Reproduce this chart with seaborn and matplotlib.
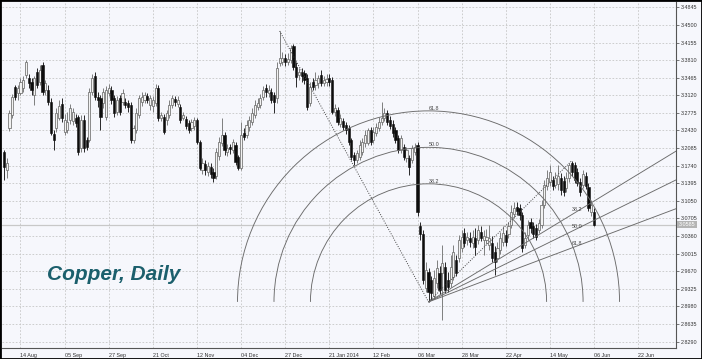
import numpy as np
import pandas as pd
import matplotlib
matplotlib.use("Agg")
import matplotlib.pyplot as plt
import matplotlib.transforms as mtransforms
from matplotlib.patches import Arc, Rectangle
import seaborn as sns

# ---------------- data (daily copper OHLC) ----------------
FIRST_BAR = -6   # bar index of the first candle (0 = 14 Aug)

opens = [
    3.201, 3.166, 3.248, 3.273, 3.328, 3.317, 3.317, 3.326, 3.352, 3.346,
    3.338, 3.313, 3.358, 3.338, 3.371, 3.322, 3.322, 3.299, 3.236, 3.248,
    3.268, 3.295, 3.240, 3.244, 3.264, 3.262, 3.268, 3.270, 3.209, 3.264,
    3.224, 3.224, 3.319, 3.350, 3.309, 3.307, 3.297, 3.270, 3.317, 3.322,
    3.307, 3.279, 3.307, 3.299, 3.299, 3.297, 3.293, 3.224, 3.244, 3.273,
    3.299, 3.303, 3.311, 3.293, 3.291, 3.297, 3.326, 3.268, 3.270, 3.264,
    3.273, 3.293, 3.305, 3.295, 3.289, 3.268, 3.266, 3.258, 3.248, 3.252,
    3.264, 3.221, 3.166, 3.177, 3.162, 3.172, 3.162, 3.154, 3.193, 3.219,
    3.234, 3.201, 3.211, 3.205, 3.215, 3.191, 3.170, 3.238, 3.234, 3.250,
    3.260, 3.273, 3.289, 3.293, 3.309, 3.326, 3.317, 3.319, 3.313, 3.307,
    3.375, 3.377, 3.385, 3.377, 3.381, 3.409, 3.368, 3.352, 3.358, 3.356,
    3.346, 3.297, 3.338, 3.332, 3.336, 3.352, 3.336, 3.338, 3.346, 3.342,
    3.279, 3.283, 3.256, 3.262, 3.254, 3.248, 3.224, 3.195, 3.185, 3.191,
    3.201, 3.219, 3.219, 3.244, 3.224, 3.238, 3.248, 3.260, 3.268, 3.277,
    3.264, 3.256, 3.244, 3.228, 3.205, 3.211, 3.189, 3.189, 3.185, 3.201,
    3.215, 3.056, 3.040, 2.934, 2.966, 2.950, 2.919, 2.944, 2.964, 2.964,
    2.976, 2.950, 2.944, 2.956, 2.989, 2.993, 3.013, 3.042, 3.028, 3.032,
    3.023, 3.032, 3.028, 3.044, 3.028, 3.028, 3.019, 3.023, 3.005, 2.993,
    3.009, 3.025, 3.038, 3.040, 3.058, 3.079, 3.093, 3.091, 3.077, 3.019,
    3.038, 3.064, 3.056, 3.052, 3.048, 3.058, 3.097, 3.134, 3.142, 3.146,
    3.136, 3.138, 3.150, 3.144, 3.130, 3.150, 3.179, 3.175, 3.162, 3.142,
    3.136, 3.154, 3.132, 3.083, 3.083,
]
closes = [
    3.172, 3.179, 3.277, 3.309, 3.309, 3.326, 3.338, 3.342, 3.377, 3.336,
    3.322, 3.346, 3.332, 3.362, 3.319, 3.336, 3.299, 3.238, 3.224, 3.277,
    3.291, 3.268, 3.264, 3.260, 3.287, 3.279, 3.258, 3.201, 3.264, 3.209,
    3.211, 3.319, 3.346, 3.309, 3.303, 3.270, 3.319, 3.322, 3.326, 3.303,
    3.277, 3.303, 3.279, 3.317, 3.293, 3.289, 3.224, 3.248, 3.277, 3.307,
    3.309, 3.313, 3.303, 3.307, 3.303, 3.326, 3.268, 3.273, 3.240, 3.277,
    3.293, 3.307, 3.299, 3.303, 3.264, 3.273, 3.252, 3.244, 3.260, 3.264,
    3.221, 3.170, 3.179, 3.166, 3.173, 3.158, 3.150, 3.201, 3.221, 3.234,
    3.205, 3.209, 3.207, 3.221, 3.181, 3.170, 3.234, 3.230, 3.254, 3.264,
    3.277, 3.293, 3.297, 3.307, 3.322, 3.319, 3.322, 3.303, 3.299, 3.366,
    3.385, 3.385, 3.377, 3.383, 3.405, 3.368, 3.348, 3.358, 3.350, 3.342,
    3.289, 3.328, 3.328, 3.342, 3.346, 3.336, 3.342, 3.344, 3.338, 3.279,
    3.287, 3.260, 3.268, 3.250, 3.244, 3.221, 3.191, 3.185, 3.199, 3.215,
    3.221, 3.234, 3.244, 3.221, 3.240, 3.250, 3.260, 3.268, 3.277, 3.260,
    3.252, 3.238, 3.224, 3.205, 3.228, 3.191, 3.205, 3.172, 3.209, 3.211,
    3.083, 3.040, 2.950, 2.970, 2.927, 2.925, 2.954, 2.974, 2.930, 2.983,
    2.930, 2.936, 2.976, 3.005, 2.964, 3.028, 3.034, 3.023, 3.034, 3.025,
    3.034, 3.015, 3.048, 3.032, 3.036, 3.034, 3.032, 2.993, 2.985, 3.013,
    3.032, 3.042, 3.025, 3.056, 3.083, 3.091, 3.085, 3.077, 3.013, 3.032,
    3.058, 3.052, 3.040, 3.034, 3.062, 3.097, 3.136, 3.150, 3.162, 3.134,
    3.150, 3.154, 3.126, 3.123, 3.150, 3.175, 3.162, 3.146, 3.140, 3.123,
    3.158, 3.134, 3.091, 3.097, 3.0585,
]
highs = [
    3.205, 3.189, 3.283, 3.315, 3.332, 3.332, 3.346, 3.350, 3.381, 3.354,
    3.346, 3.350, 3.366, 3.371, 3.377, 3.342, 3.332, 3.307, 3.244, 3.287,
    3.303, 3.307, 3.275, 3.279, 3.295, 3.287, 3.275, 3.273, 3.273, 3.273,
    3.230, 3.326, 3.354, 3.358, 3.319, 3.313, 3.326, 3.330, 3.334, 3.330,
    3.313, 3.311, 3.313, 3.324, 3.307, 3.303, 3.299, 3.254, 3.287, 3.313,
    3.319, 3.319, 3.317, 3.313, 3.311, 3.334, 3.332, 3.279, 3.275, 3.283,
    3.303, 3.313, 3.311, 3.311, 3.295, 3.279, 3.271, 3.264, 3.266, 3.270,
    3.268, 3.224, 3.189, 3.185, 3.181, 3.179, 3.170, 3.209, 3.230, 3.268,
    3.240, 3.217, 3.217, 3.226, 3.221, 3.195, 3.260, 3.248, 3.264, 3.271,
    3.287, 3.303, 3.307, 3.315, 3.330, 3.334, 3.332, 3.326, 3.319, 3.377,
    3.438, 3.397, 3.393, 3.395, 3.411, 3.413, 3.377, 3.366, 3.366, 3.362,
    3.354, 3.338, 3.346, 3.358, 3.352, 3.362, 3.350, 3.354, 3.354, 3.348,
    3.295, 3.289, 3.275, 3.268, 3.260, 3.254, 3.228, 3.201, 3.205, 3.224,
    3.228, 3.244, 3.248, 3.250, 3.250, 3.258, 3.270, 3.299, 3.287, 3.283,
    3.271, 3.264, 3.250, 3.234, 3.234, 3.217, 3.211, 3.195, 3.215, 3.219,
    3.221, 3.064, 3.048, 2.985, 2.974, 2.958, 2.970, 2.989, 2.977, 3.019,
    2.985, 2.966, 2.999, 3.019, 2.999, 3.038, 3.048, 3.052, 3.044, 3.044,
    3.048, 3.052, 3.058, 3.056, 3.048, 3.050, 3.058, 3.036, 3.017, 3.025,
    3.044, 3.056, 3.048, 3.064, 3.097, 3.103, 3.103, 3.099, 3.083, 3.044,
    3.068, 3.071, 3.064, 3.060, 3.070, 3.107, 3.146, 3.166, 3.175, 3.154,
    3.162, 3.175, 3.160, 3.154, 3.162, 3.180, 3.184, 3.181, 3.170, 3.150,
    3.166, 3.162, 3.140, 3.107, 3.091,
]
lows = [
    3.146, 3.150, 3.242, 3.268, 3.303, 3.303, 3.313, 3.319, 3.346, 3.326,
    3.313, 3.293, 3.326, 3.332, 3.313, 3.313, 3.293, 3.234, 3.205, 3.240,
    3.264, 3.260, 3.234, 3.238, 3.256, 3.254, 3.250, 3.195, 3.201, 3.201,
    3.205, 3.221, 3.313, 3.303, 3.289, 3.244, 3.287, 3.264, 3.311, 3.295,
    3.270, 3.273, 3.273, 3.293, 3.287, 3.279, 3.219, 3.219, 3.238, 3.268,
    3.291, 3.297, 3.297, 3.283, 3.279, 3.291, 3.262, 3.262, 3.236, 3.254,
    3.268, 3.287, 3.291, 3.289, 3.258, 3.264, 3.246, 3.238, 3.242, 3.244,
    3.217, 3.166, 3.158, 3.156, 3.154, 3.150, 3.142, 3.148, 3.185, 3.213,
    3.195, 3.193, 3.197, 3.199, 3.175, 3.166, 3.166, 3.224, 3.228, 3.242,
    3.254, 3.268, 3.283, 3.287, 3.303, 3.309, 3.309, 3.297, 3.277, 3.297,
    3.369, 3.371, 3.369, 3.371, 3.375, 3.362, 3.328, 3.342, 3.338, 3.334,
    3.283, 3.291, 3.322, 3.322, 3.326, 3.330, 3.330, 3.330, 3.330, 3.275,
    3.271, 3.254, 3.250, 3.244, 3.236, 3.215, 3.185, 3.175, 3.179, 3.185,
    3.195, 3.211, 3.215, 3.215, 3.219, 3.232, 3.242, 3.254, 3.262, 3.254,
    3.246, 3.230, 3.219, 3.199, 3.199, 3.185, 3.181, 3.156, 3.179, 3.195,
    3.075, 3.028, 2.942, 2.927, 2.907, 2.911, 2.913, 2.934, 2.923, 2.872,
    2.925, 2.927, 2.936, 2.950, 2.958, 2.985, 3.005, 3.015, 3.019, 3.015,
    3.013, 2.999, 3.021, 3.026, 2.999, 3.021, 3.009, 2.985, 2.960, 2.985,
    3.001, 3.017, 3.017, 3.032, 3.052, 3.071, 3.077, 3.068, 3.005, 3.013,
    3.028, 3.042, 3.032, 3.028, 3.042, 3.052, 3.091, 3.126, 3.134, 3.126,
    3.130, 3.126, 3.117, 3.115, 3.123, 3.142, 3.154, 3.140, 3.134, 3.115,
    3.130, 3.128, 3.085, 3.075, 3.056,
]

date_labels = ["14 Aug", "05 Sep", "27 Sep", "21 Oct", "12 Nov", "04 Dec",
               "27 Dec", "21 Jan 2014", "12 Feb", "06 Mar", "28 Mar",
               "22 Apr", "14 May", "06 Jun", "22 Jun"]
date_label_step = 16  # bars between date labels

price_ticks = [3.4845, 3.4500, 3.4155, 3.3810, 3.3465, 3.3120, 3.2775,
               3.2430, 3.2085, 3.1740, 3.1395, 3.1050, 3.0705, 3.0360,
               3.0015, 2.9670, 2.9325, 2.8980, 2.8635, 2.8290]

fib_levels = [0.382, 0.500, 0.618]
arc_from_bar = 94    # December high
arc_to_bar = 148     # March low (arc centre, fan origin)
fan_to_bar = 200     # May high
last_price = 3.0585
title_text = "Copper, Daily"

# ---------------- style ----------------
sns.set_style("white")
plt.rcParams['font.family'] = ['Liberation Sans', 'DejaVu Sans']

n = len(opens)
assert len(closes) == n and len(highs) == n and len(lows) == n
df = pd.DataFrame({"bar": np.arange(FIRST_BAR, FIRST_BAR + n),
                   "open": opens, "close": closes, "high": highs, "low": lows})
dfi = df.set_index("bar")

BG = "#f6f7fc"
fig = plt.figure(figsize=(7.02, 3.59), dpi=100)
fig.patch.set_facecolor(BG)
ax = fig.add_axes([1.5 / 702, 11 / 359, 674.5 / 702, 346 / 359])
ax.set_facecolor(BG)
ax.set_xlim(-6.89, 237.76)
ax.set_ylim(2.8166, 3.4949)

# ticks & grid
ax.set_xticks(np.arange(len(date_labels)) * date_label_step)
ax.set_xticklabels(date_labels, ha="left")
ax.set_yticks(price_ticks)
ax.set_yticklabels([f"{v:.4f}" for v in price_ticks])
ax.yaxis.tick_right()
ax.tick_params(axis="both", direction="out", length=2.5, width=0.5,
               color="#444444", labelcolor="#333333", labelsize=3.9, pad=1)
ax.grid(True, color="#c6c6c6", linestyle=(0, (2, 2)), linewidth=0.6)
ax.set_axisbelow(True)
for s in ["left", "top"]:
    ax.spines[s].set_visible(False)
for s in ["right", "bottom"]:
    ax.spines[s].set_color("#555555")
    ax.spines[s].set_linewidth(0.8)

# current price line
ax.axhline(last_price, color="#c8c8c8", lw=0.9, zorder=1.5)

# candles
up = df["close"] >= df["open"]
dn = ~up
bw = 0.78
ax.vlines(df["bar"][up], df["low"][up], df["high"][up], color="#767676", lw=0.65, zorder=2)
ax.vlines(df["bar"][dn], df["low"][dn], df["high"][dn], color="#1a1a1a", lw=0.65, zorder=2)
ax.bar(df["bar"][up], (df["close"] - df["open"])[up], bottom=df["open"][up], width=bw,
       facecolor="#f2f2f2", edgecolor="#6e6e6e", linewidth=0.55, zorder=3)
ax.bar(df["bar"][dn], (df["open"] - df["close"])[dn], bottom=df["close"][dn], width=bw,
       facecolor="#0d0d0d", edgecolor="#0d0d0d", linewidth=0.4, zorder=3)

# Fibonacci arcs (circles in screen space)
xA, yA = arc_to_bar, dfi.loc[arc_to_bar, "low"]
x1, y1 = arc_from_bar, dfi.loc[arc_from_bar, "high"]
xB, yB = fan_to_bar, dfi.loc[fan_to_bar, "high"]
T = ax.transData
pA = T.transform((xA, yA))
p1 = T.transform((x1, y1))
dist = np.hypot(*(p1 - pA))
sx = T.transform((1, 0))[0] - T.transform((0, 0))[0]
sy = T.transform((0, 1))[1] - T.transform((0, 0))[1]
fib_col = "#6a6a6a"
lab_col = "#444444"
for lev in fib_levels:
    r = lev * dist
    ax.add_patch(Arc((xA, yA), 2 * r / sx, 2 * r / sy, theta1=0, theta2=180,
                     color=fib_col, lw=0.65, zorder=4))
    ax.text(xA, yA + r / sy, f"{lev * 100:.1f}", fontsize=3.9, color=lab_col,
            ha="left", va="bottom", zorder=5)

# dotted trend lines
sns.lineplot(x=[x1, xA], y=[y1, yA], ax=ax, color="#444444", lw=0.7,
             linestyle=(0, (1, 1.5)), estimator=None, zorder=4)
sns.lineplot(x=[xA, xB], y=[yA, yB], ax=ax, color="#444444", lw=0.7,
             linestyle=(0, (1, 1.5)), estimator=None, zorder=4)

# Fibonacci fan
x_end = ax.get_xlim()[1]
for lev in fib_levels:
    yb = yA + (1 - lev) * (yB - yA)
    slope = (yb - yA) / (xB - xA)
    ax.plot([xA, x_end], [yA, yA + slope * (x_end - xA)], color=fib_col, lw=0.65, zorder=4)
    ax.annotate(f"{lev * 100:.1f}", (xB, yb), xytext=(0, 1.5), textcoords="offset points",
                fontsize=3.9, color=lab_col, ha="left", va="bottom", zorder=5)

# current price label on the axis
trans = mtransforms.blended_transform_factory(ax.transAxes, ax.transData)
ax.text(1.004, last_price, f"{last_price:.4f}", transform=trans, fontsize=3.9,
        color="white", va="center", ha="left", clip_on=False,
        bbox=dict(boxstyle="square,pad=0.25", fc="#b4b4b4", ec="none"))

# title
ax.text(0.0668, 0.1965, title_text, transform=ax.transAxes, fontsize=15,
        fontweight="bold", fontstyle="italic", color="#1b5f6c",
        ha="left", va="baseline", zorder=6)

ax.set_xlabel("")
ax.set_ylabel("")
if ax.get_legend() is not None:
    ax.get_legend().remove()

fig.add_artist(Rectangle((0, 0), 1, 1, transform=fig.transFigure, fill=False,
                         edgecolor="black", lw=2))
fig.savefig("out.png", dpi=100, facecolor=BG)
